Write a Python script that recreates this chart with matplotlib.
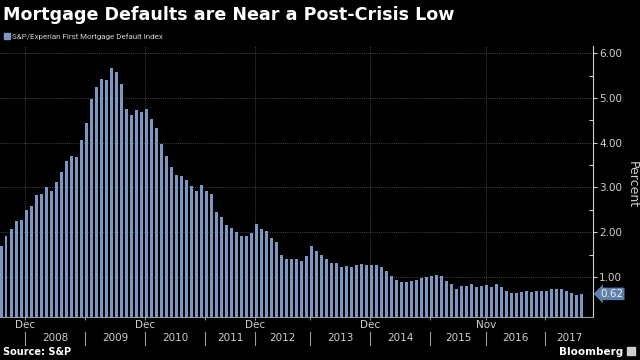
import matplotlib
matplotlib.use('Agg')
import matplotlib.pyplot as plt
import matplotlib.transforms as mtransforms
from matplotlib.patches import Rectangle
import numpy as np

# ---- data (monthly index values, percent) ----
values = [
    1.68, 1.92, 2.07, 2.24, 2.27, 2.50, 2.59, 2.82, 2.85, 3.00,
    2.92, 3.12, 3.35, 3.59, 3.70, 3.68, 4.06, 4.43, 4.97, 5.25,
    5.42, 5.39, 5.66, 5.58, 5.31, 4.75, 4.62, 4.72, 4.69, 4.75,
    4.53, 4.32, 3.96, 3.70, 3.45, 3.27, 3.25, 3.16, 3.02, 2.91,
    3.06, 2.93, 2.85, 2.45, 2.33, 2.16, 2.09, 2.01, 1.92, 1.92,
    1.99, 2.18, 2.07, 2.02, 1.87, 1.77, 1.49, 1.41, 1.41, 1.39,
    1.35, 1.47, 1.69, 1.58, 1.48, 1.41, 1.31, 1.31, 1.23, 1.25,
    1.23, 1.27, 1.29, 1.27, 1.27, 1.26, 1.23, 1.13, 1.01, 0.93,
    0.89, 0.88, 0.91, 0.94, 0.97, 0.99, 1.02, 1.04, 1.01, 0.91,
    0.84, 0.74, 0.80, 0.79, 0.84, 0.77, 0.80, 0.82, 0.77, 0.84,
    0.78, 0.69, 0.63, 0.65, 0.66, 0.68, 0.67, 0.69, 0.69, 0.69,
    0.72, 0.74, 0.74, 0.69, 0.63, 0.60, 0.62,
]
year_labels = ['2008', '2009', '2010', '2011', '2012', '2013',
               '2014', '2015', '2016', '2017']
year_edges = [4.8, 16.8, 28.8, 40.8, 50.8, 61.8, 73.8, 85.8, 97.0, 108.8, 118.4]
month_tick_pos = [4.8, 28.8, 50.8, 73.8, 97.0]
month_labels = ['Dec', 'Dec', 'Dec', 'Dec', 'Nov']
y_ticks = [1, 2, 3, 4, 5, 6]
y_minor = [1.5, 2.5, 3.5, 4.5, 5.5]
series_name = 'S&P/Experian First Mortgage Default Index'
title = 'Mortgage Defaults are Near a Post-Crisis Low'

BAR = '#7b98c2'
TXT = '#cfcfcf'
GRID = '#444444'
AXC = '#d0d0d0'

W, H = 640, 360
fig = plt.figure(figsize=(6.4, 3.6), dpi=100, facecolor='black')
ax = fig.add_axes([0, (H - 316.7) / H, 593 / W, (316.7 - 46) / H])
ax.set_facecolor('black')

x = np.arange(len(values))
ax.bar(x, values, width=0.6, color=BAR, zorder=3, linewidth=0)
ax.set_xlim(-0.2, 118.4)
ax.set_ylim(0.11, 6.16)

for s in ['left', 'top']:
    ax.spines[s].set_visible(False)
ax.spines['right'].set_color(AXC)
ax.spines['right'].set_linewidth(0.8)
ax.spines['bottom'].set_color('#9a9a9a')
ax.spines['bottom'].set_linewidth(0.8)

ax.yaxis.tick_right()
ax.set_yticks(y_ticks)
ax.set_yticklabels([f'{v:.2f}' for v in y_ticks])
ax.set_yticks(y_minor, minor=True)
ax.tick_params(axis='y', which='major', direction='out', length=3, width=0.8,
               color=AXC, labelcolor=TXT, labelsize=7.5, pad=1.5)
ax.tick_params(axis='y', which='minor', direction='in', length=3, width=0.8,
               color=AXC)

ax.set_xticks(year_edges[:-1])
ax.set_xticklabels([])
ax.tick_params(axis='x', which='major', direction='out', length=2.5, width=0.8,
               color='#8a8a8a')

for v in y_ticks:
    ax.axhline(v, color=GRID, lw=0.7, ls=(0, (1, 1.2)), zorder=1)
for p in month_tick_pos:
    ax.axvline(p, color=GRID, lw=0.7, ls=(0, (1, 1.2)), zorder=1)

trans = mtransforms.blended_transform_factory(ax.transData, ax.transAxes)
for p, lab in zip(month_tick_pos, month_labels):
    ax.text(p, -0.031, lab, ha='center', va='center', transform=trans,
            color=TXT, fontsize=7.5)
for i, lab in enumerate(year_labels):
    c = (year_edges[i] + year_edges[i + 1]) / 2
    ax.text(c, -0.079, lab, ha='center', va='center', transform=trans,
            color=TXT, fontsize=7.5)
for e in year_edges[:-1]:
    ax.plot([e, e], [-0.0565, -0.1045], transform=trans, clip_on=False,
            color='#9a9a9a', lw=0.8)

# last value tag
tr2 = mtransforms.blended_transform_factory(ax.transAxes, ax.transData)
ax.text(1.012, values[-1], f'{values[-1]:.2f}', transform=tr2, ha='left',
        va='center', color='#f0f0f0', fontsize=7.5,
        bbox=dict(boxstyle='larrow,pad=0.12', fc='#5f80ad', ec='none'))

# titles and texts
fig.text(3 / W, 1 - 19.5 / H, title, color='white', fontsize=12.6,
         fontweight='bold', va='baseline', ha='left')
fig.patches.append(Rectangle((4 / W, 1 - 39 / H), 6 / W, 6 / H,
                             transform=fig.transFigure, color=BAR))
fig.text(12 / W, 1 - 39 / H, series_name, color=TXT, fontsize=5.8,
         family=['Roboto', 'DejaVu Sans'], va='baseline', ha='left')
fig.text(632 / W, 1 - 185 / H, 'Percent', rotation=-90, ha='center',
         va='center', color=TXT, fontsize=9)
fig.text(3 / W, 1 - 355 / H, 'Source: S&P', color='white', fontsize=7,
         fontweight='bold', va='baseline', ha='left')
fig.text(559 / W, 1 - 355 / H, 'Bloomberg', color='white', fontsize=7.5,
         fontweight='bold', va='baseline', ha='left')
fig.patches.append(Rectangle((627 / W, 1 - 355 / H), 8 / W, 8 / H,
                             transform=fig.transFigure, color='#cfcfcf'))

fig.savefig('out.png', dpi=100, facecolor='black')
